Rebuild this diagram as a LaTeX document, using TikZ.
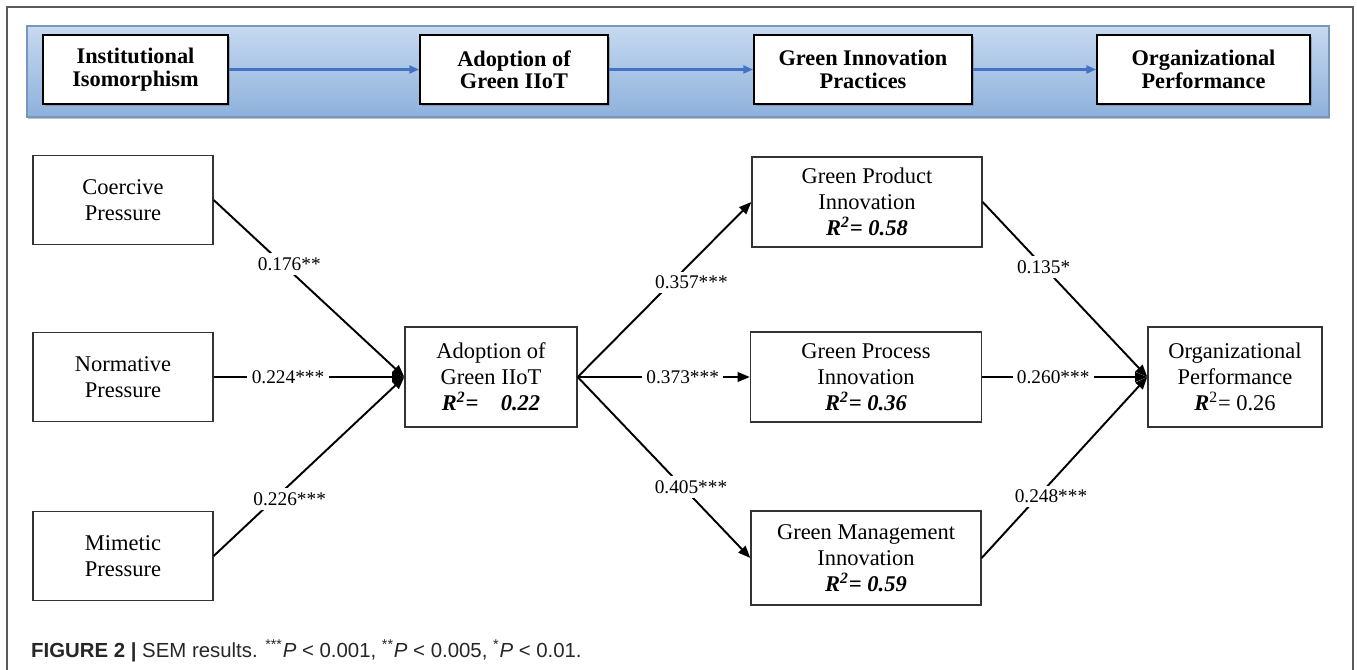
\documentclass[tikz,border=0pt]{standalone}
\usepackage{fontspec}
\setmainfont{Liberation Serif}
\newfontfamily\capfont{Liberation Sans}
\usetikzlibrary{positioning,arrows.meta,calc,shadows}
\definecolor{band1}{HTML}{C6D9F0}
\definecolor{band2}{HTML}{8DB1DC}
\definecolor{band3}{HTML}{7895BB}
\definecolor{flow}{HTML}{4472C4}
\definecolor{frame}{HTML}{5A5A5A}
\tikzset{
  headbox/.style={draw=black, line width=1pt, fill=white, align=center,
    font=\fontsize{12.7}{12.8}\selectfont\bfseries,
    drop shadow={shadow xshift=0.9pt, shadow yshift=-0.9pt, opacity=0.6}},
  varbox/.style={draw=black!80, line width=0.8pt, fill=white, align=center,
    font=\fontsize{12.8}{14.7}\selectfont},
  coef/.style={fill=white, inner sep=2.5pt, font=\fontsize{11}{11}\selectfont},
  link/.style={line width=1.1pt, -{Triangle[length=7pt,width=5.5pt]}},
  flowarrow/.style={draw=flow, line width=1.2pt, -{Triangle[length=5.5pt,width=4.5pt]}}
}

\begin{document}
\begin{tikzpicture}[x=0.02cm,y=-0.02cm]
\useasboundingbox (0,0) rectangle (1357,670);
\draw[frame, line width=0.6pt] (7,670) -- (7,7) -- (1353,7) -- (1353,670);

% stage banner
\path[draw=band3, line width=0.8pt, top color=band1, bottom color=band2,
  drop shadow={shadow xshift=0.6pt, shadow yshift=-0.9pt, opacity=0.5}] (27,26) rectangle (1329,117);
\node[headbox, minimum width=3.7cm, minimum height=1.38cm] (hInst) at (135.5,69.5) {Institutional\\Isomorphism};
\node[headbox, minimum width=3.76cm, minimum height=1.38cm] (hAdopt) at (514,69.5) {Adoption of\\Green IIoT};
\node[headbox, minimum width=4.36cm, minimum height=1.38cm] (hGreen) at (863,69.5) {Green Innovation\\Practices};
\node[headbox, minimum width=4.26cm, minimum height=1.38cm] (hPerf) at (1203.5,69.5) {Organizational\\Performance};
\draw[flowarrow] (hInst) -- (hAdopt);
\draw[flowarrow] (hAdopt) -- (hGreen);
\draw[flowarrow] (hGreen) -- (hPerf);

% model
\node[varbox, minimum width=3.6cm, minimum height=1.78cm] (coer) at (123,200) {Coercive\\Pressure};
\node[varbox, minimum width=3.6cm, minimum height=1.78cm] (norm) at (123,377) {Normative\\Pressure};
\node[varbox, minimum width=3.6cm, minimum height=1.78cm] (mim) at (123,556) {Mimetic\\Pressure};
\node[varbox, minimum width=3.44cm, minimum height=2.0cm] (adopt) at (491,377)
  {Adoption of\\Green IIoT\\\textbf{\textit{R\textsuperscript{2}=\quad 0.22}}};
\node[varbox, minimum width=4.6cm, minimum height=1.8cm] (prod) at (867,202)
  {Green Product\\Innovation\\\textbf{\textit{R\textsuperscript{2}= 0.58}}};
\node[varbox, minimum width=4.62cm, minimum height=1.8cm] (proc) at (866,377)
  {Green Process\\Innovation\\\textbf{\textit{R\textsuperscript{2}= 0.36}}};
\node[varbox, minimum width=4.6cm, minimum height=1.88cm] (mgmt) at (866,558)
  {Green Management\\Innovation\\\textbf{\textit{R\textsuperscript{2}= 0.59}}};
\node[varbox, minimum width=3.48cm, minimum height=2.0cm] (perf) at (1235,377)
  {Organizational\\Performance\\\textbf{\textit{R}}\textsuperscript{2}= 0.26};

\draw[link] (coer.east) -- node[coef, pos=0.36, xshift=0.14cm] {0.176**} (adopt.west);
\draw[link] (norm.east) -- node[coef, pos=0.39] {0.224***} (adopt.west);
\draw[link] (mim.east) -- node[coef, pos=0.32, xshift=0.3cm] {0.226***} (adopt.west);
\draw[link] (adopt.east) -- node[coef, pos=0.54, xshift=0.4cm] {0.357***} (prod.west);
\draw[link] (adopt.east) -- node[coef, pos=0.61] {0.373***} (proc.west);
\draw[link] (adopt.east) -- node[coef, pos=0.61, xshift=0.16cm] {0.405***} (mgmt.west);
\draw[link] (prod.east) -- node[coef, pos=0.37] {0.135*} (perf.west);
\draw[link] (proc.east) -- node[coef, pos=0.43] {0.260***} (perf.west);
\draw[link] (mgmt.east) -- node[coef, pos=0.34, xshift=0.26cm] {0.248***} (perf.west);

\node[anchor=base west, text=black!85, font=\capfont\fontsize{11.6}{11.6}\selectfont] (cap) at (25,657)
  {\textbf{FIGURE 2 |} SEM results. \textsuperscript{***}\textit{P} < 0.001, \textsuperscript{**}\textit{P} < 0.005, \textsuperscript{*}\textit{P} < 0.01.};
\end{tikzpicture}
\end{document}
